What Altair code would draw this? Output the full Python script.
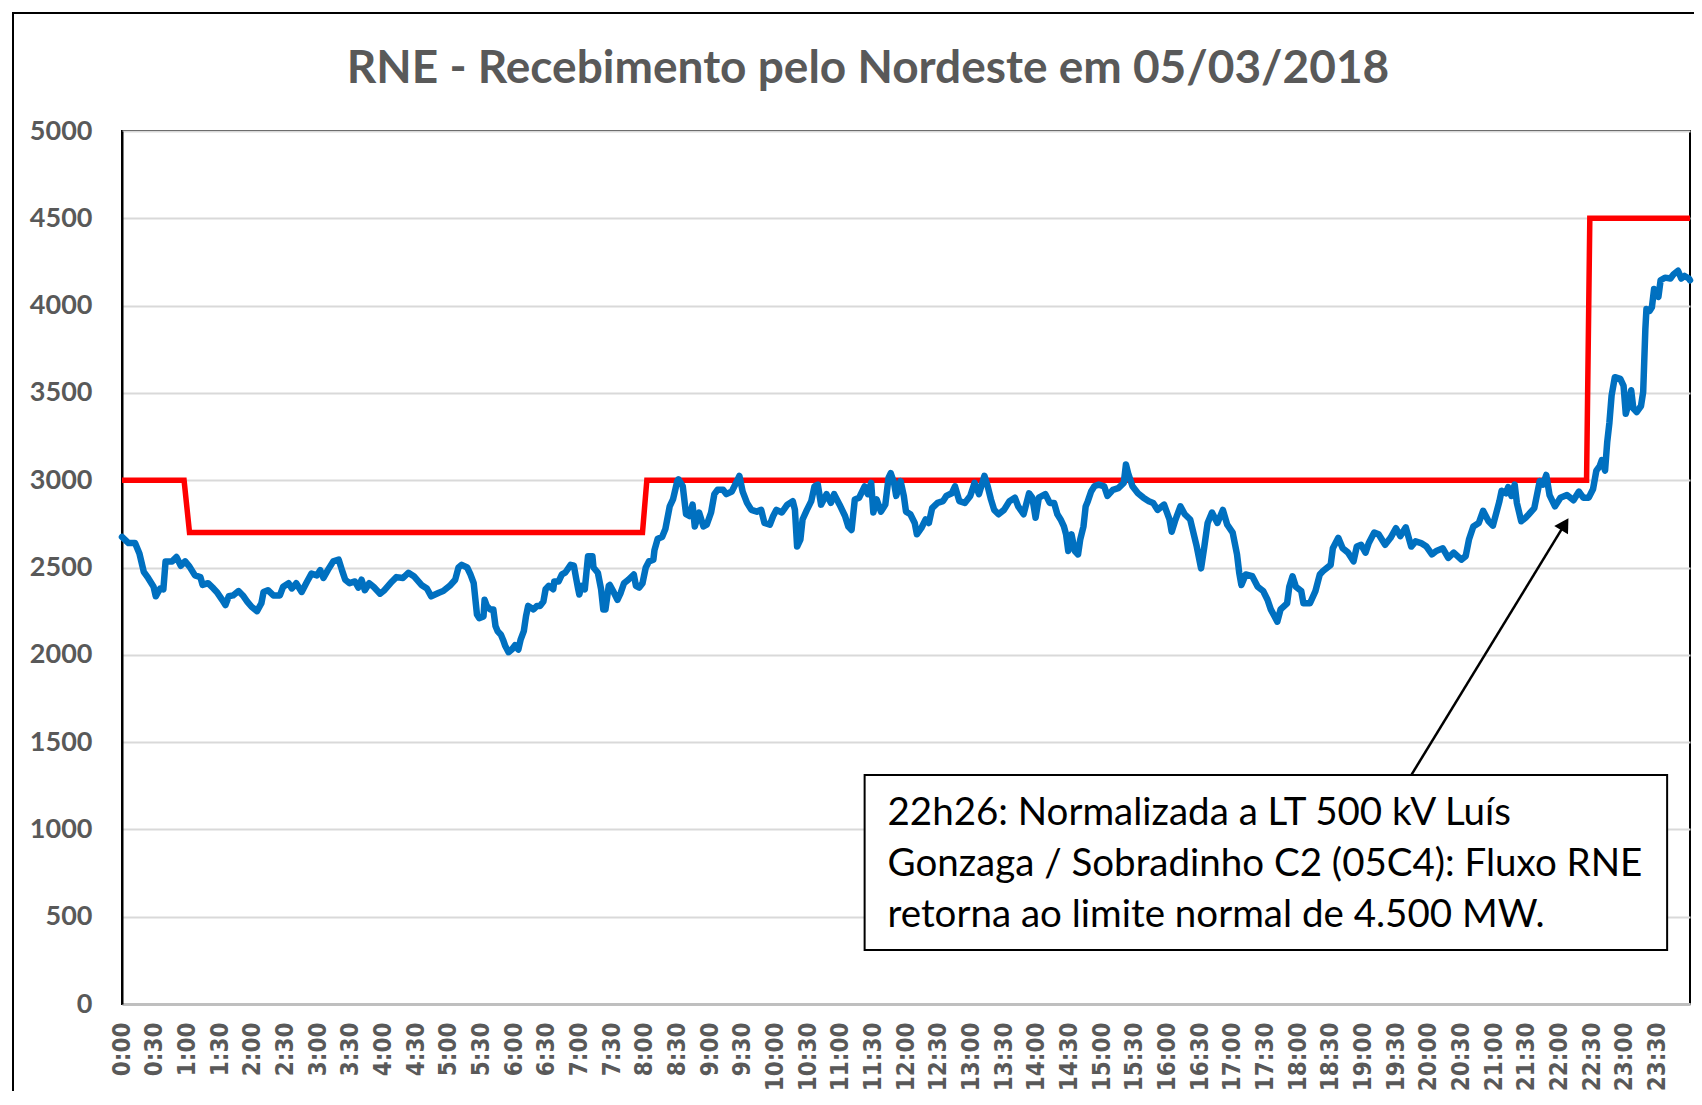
import altair as alt
import pandas as pd

TITLE = "RNE - Recebimento pelo Nordeste em 05/03/2018"

# Fluxo RNE (MW); tempo em minutos desde 0:00
rne_min = [
    0, 6, 12, 16, 20, 24, 29, 31, 35, 38, 40, 46, 50, 54, 58, 62, 67, 72, 74, 79,
    84, 87, 92, 95, 98, 102, 107, 111, 115, 119, 124, 128, 130, 134, 139, 145, 148, 153, 156, 160,
    165, 170, 174, 179, 182, 185, 189, 194, 199, 202, 205, 209, 214, 217, 220, 223, 227, 231, 237, 241,
    248, 252, 258, 263, 268, 275, 280, 284, 291, 295, 301, 306, 309, 312, 317, 320, 323, 325, 326, 328,
    332, 333, 335, 338, 341, 343, 345, 348, 350, 352, 355, 358, 361, 364, 366, 369, 371, 373, 378, 381,
    384, 387, 389, 392, 396, 397, 401, 404, 407, 412, 415, 417, 419, 420, 422, 425, 428, 432, 433, 437,
    440, 442, 444, 447, 448, 451, 455, 458, 461, 465, 470, 472, 475, 478, 481, 484, 488, 489, 492, 496,
    499, 503, 506, 510, 511, 515, 518, 521, 524, 526, 530, 534, 537, 541, 544, 547, 552, 555, 560, 564,
    567, 570, 574, 578, 583, 587, 590, 595, 598, 601, 606, 611, 616, 618, 620, 623, 625, 629, 633, 636,
    639, 642, 647, 651, 654, 659, 664, 667, 670, 673, 677, 682, 685, 688, 690, 693, 697, 701, 704, 706,
    709, 711, 715, 718, 720, 724, 728, 730, 734, 738, 741, 744, 749, 754, 757, 762, 765, 769, 774, 779,
    783, 787, 792, 795, 798, 801, 805, 810, 815, 820, 823, 828, 833, 836, 839, 842, 848, 852, 856, 859,
    862, 865, 867, 869, 872, 875, 878, 880, 883, 885, 887, 890, 893, 897, 902, 905, 910, 915, 920, 922,
    924, 928, 933, 938, 943, 947, 951, 957, 962, 964, 967, 972, 976, 981, 987, 991, 994, 997, 1001, 1006,
    1011, 1015, 1020, 1024, 1026, 1028, 1032, 1038, 1043, 1048, 1052, 1055, 1061, 1064, 1070, 1072, 1075, 1078, 1083, 1085,
    1091, 1096, 1100, 1103, 1110, 1112, 1117, 1121, 1126, 1131, 1134, 1138, 1142, 1145, 1150, 1154, 1160, 1165, 1170, 1174,
    1179, 1184, 1188, 1193, 1198, 1203, 1207, 1213, 1218, 1223, 1230, 1234, 1237, 1241, 1246, 1250, 1255, 1259, 1265, 1267,
    1271, 1273, 1276, 1279, 1281, 1285, 1289, 1292, 1297, 1302, 1305, 1308, 1311, 1316, 1321, 1327, 1333, 1338, 1342, 1347,
    1351, 1354, 1357, 1359, 1362, 1364, 1366, 1368, 1371, 1376, 1379, 1381, 1383, 1386, 1388, 1391, 1395, 1397, 1399, 1400,
    1403, 1405, 1407, 1411, 1413, 1417, 1422, 1425, 1429, 1432, 1435, 1439, 1440,
]
rne_mw = [
    2675, 2640, 2640, 2580, 2475, 2440, 2390, 2335, 2380, 2375, 2535, 2535, 2560, 2510, 2535, 2505, 2455, 2445, 2400, 2410,
    2380, 2360, 2315, 2285, 2335, 2340, 2365, 2340, 2305, 2275, 2250, 2295, 2360, 2370, 2340, 2340, 2390, 2410, 2380, 2410,
    2360, 2420, 2465, 2455, 2485, 2440, 2485, 2535, 2545, 2485, 2430, 2410, 2420, 2385, 2430, 2370, 2410, 2390, 2350, 2370,
    2420, 2445, 2440, 2470, 2450, 2400, 2380, 2335, 2355, 2365, 2395, 2430, 2500, 2515, 2500, 2460, 2410, 2290, 2230, 2210,
    2220, 2315, 2280, 2260, 2260, 2165, 2135, 2115, 2085, 2050, 2015, 2030, 2055, 2030, 2085, 2135, 2220, 2280, 2260, 2280,
    2280, 2305, 2375, 2395, 2375, 2420, 2420, 2460, 2470, 2515, 2510, 2440, 2375, 2345, 2395, 2375, 2565, 2565, 2500, 2470,
    2375, 2260, 2260, 2395, 2400, 2365, 2315, 2355, 2410, 2430, 2460, 2395, 2385, 2410, 2500, 2535, 2545, 2600, 2665, 2675,
    2720, 2850, 2890, 2995, 3005, 2965, 2805, 2795, 2860, 2735, 2815, 2735, 2745, 2815, 2920, 2945, 2945, 2920, 2935, 2985,
    3025, 2935, 2870, 2830, 2820, 2830, 2755, 2745, 2795, 2830, 2815, 2860, 2880, 2830, 2620, 2660, 2775, 2830, 2880, 2965,
    2975, 2860, 2920, 2870, 2920, 2860, 2795, 2735, 2715, 2890, 2900, 2965, 2920, 2985, 2815, 2890, 2820, 2860, 3015, 3040,
    2985, 2910, 2995, 2910, 2820, 2805, 2755, 2690, 2725, 2775, 2755, 2840, 2870, 2880, 2910, 2925, 2965, 2880, 2870, 2910,
    2985, 2920, 3025, 2965, 2890, 2830, 2805, 2830, 2880, 2900, 2850, 2805, 2925, 2900, 2785, 2900, 2920, 2870, 2870, 2805,
    2775, 2735, 2690, 2595, 2690, 2595, 2575, 2660, 2735, 2850, 2880, 2935, 2965, 2975, 2965, 2910, 2945, 2955, 2985, 3090,
    3040, 2965, 2925, 2900, 2880, 2870, 2830, 2860, 2775, 2705, 2765, 2850, 2805, 2775, 2620, 2495, 2620, 2755, 2815, 2755,
    2830, 2745, 2700, 2575, 2470, 2400, 2460, 2450, 2390, 2365, 2315, 2260, 2190, 2260, 2295, 2390, 2450, 2390, 2365, 2295,
    2295, 2365, 2460, 2480, 2515, 2610, 2670, 2610, 2585, 2535, 2620, 2630, 2585, 2640, 2700, 2690, 2630, 2670, 2725, 2680,
    2730, 2620, 2650, 2640, 2620, 2575, 2595, 2610, 2555, 2585, 2545, 2565, 2660, 2735, 2755, 2825, 2765, 2740, 2880, 2940,
    2925, 2960, 2910, 2975, 2870, 2765, 2785, 2805, 2840, 2995, 2975, 3030, 2915, 2850, 2900, 2915, 2885, 2935, 2900, 2900,
    2950, 3055, 3080, 3115, 3055, 3220, 3330, 3485, 3590, 3580, 3540, 3380, 3425, 3515, 3410, 3390, 3425, 3505, 3865, 3980,
    3970, 3990, 4095, 4050, 4145, 4160, 4155, 4180, 4200, 4155, 4170, 4155, 4145,
]

# Limite RNE (MW)
lim_min = [0, 57, 62, 478, 482, 1345, 1348, 1440]
lim_mw = [3000, 3000, 2700, 2700, 3000, 3000, 4500, 4500]

x_tick_minutes = list(range(0, 1440, 30))
y_tick_values = list(range(0, 5001, 500))

note_lines = [
    "22h26: Normalizada a LT 500 kV Luís",
    "Gonzaga / Sobradinho C2 (05C4): Fluxo RNE",
    "retorna ao limite normal de 4.500 MW.",
]

# annotation placement (data units: minutes / MW)
note_box = {"x0": 682, "x1": 1419, "y0": 309, "y1": 1311}
note_text_x = 703
note_text_y = [1025, 731, 439]
arrow = {"min": 1184, "mw": 1311, "min2": 1325, "mw2": 2748}
arrow_angle = 31.6

GRAY = "#595959"

x_scale = alt.Scale(domain=[0, 1440], nice=False, zero=False)
y_scale = alt.Scale(domain=[0, 5000], nice=False)

label_expr = "floor(datum.value / 60) + ':' + (datum.value % 60 == 0 ? '00' : '30')"

x_axis = alt.Axis(
    values=x_tick_minutes, labelExpr=label_expr, labelAngle=270, labelAlign="right",
    labelBaseline="middle", labelFont="DejaVu Sans Condensed", labelFontWeight="bold",
    labelFontSize=24, labelColor=GRAY, labelPadding=18, ticks=False, grid=False,
    domainColor="#BFBFBF", domainWidth=3, title=None, labelOverlap=False,
    labelFlush=False, labelBound=False,
)
y_axis = alt.Axis(
    values=y_tick_values, format="d", labelFont="Lato", labelFontWeight="bold", labelFontSize=27,
    labelColor=GRAY, labelPadding=30, ticks=False, grid=True, gridColor="#D9D9D9",
    gridWidth=2, domainColor="black", domainWidth=2, title=None, labelFlush=False,
)


def X(field):
    return alt.X(field, type="quantitative", scale=x_scale, axis=x_axis)


def Y(field):
    return alt.Y(field, type="quantitative", scale=y_scale, axis=y_axis)


blue_df = pd.DataFrame({"min": rne_min, "mw": rne_mw})
red_df = pd.DataFrame({"min": lim_min, "mw": lim_mw})

red = alt.Chart(red_df).mark_line(color="#FF0000", strokeWidth=5.5, strokeJoin="miter").encode(
    x=X("min"), y=Y("mw"),
)
blue = alt.Chart(blue_df).mark_line(
    color="#0070C0", strokeWidth=6.5, strokeJoin="round", strokeCap="round"
).encode(x=X("min"), y=Y("mw"))

box = alt.Chart(pd.DataFrame([note_box])).mark_rect(fill="white", stroke="black", strokeWidth=2).encode(
    x=X("x0"), x2="x1:Q", y=Y("y0"), y2="y1:Q",
)

text_df = pd.DataFrame({"x": [note_text_x] * 3, "y": note_text_y, "t": note_lines})
texts = alt.Chart(text_df).mark_text(
    align="left", baseline="alphabetic", font="Lato", fontSize=38.5, color="black"
).encode(x=X("x"), y=Y("y"), text="t:N")

arrow_df = pd.DataFrame([arrow])
arrow_line = alt.Chart(arrow_df).mark_rule(color="black", strokeWidth=2.5).encode(
    x=X("min"), x2="min2:Q", y=Y("mw"), y2="mw2:Q",
)
arrow_head = alt.Chart(arrow_df).mark_point(
    shape="triangle-up", filled=True, color="black", size=260, angle=arrow_angle, opacity=1
).encode(x=X("min2"), y=Y("mw2"))

one = pd.DataFrame({"t": [TITLE]})
title_mark = alt.Chart(one).mark_text(
    font="Lato", fontSize=46, fontWeight="bold", color=GRAY, align="center", baseline="alphabetic"
).encode(x=alt.value(746), y=alt.value(-48), text="t:N")

frame_left = alt.Chart(one).mark_rule(color="black", strokeWidth=2).encode(
    x=alt.value(-109), y=alt.value(-118), y2=alt.value(1000)
)
frame_top = alt.Chart(one).mark_rule(color="black", strokeWidth=2).encode(
    x=alt.value(-110), x2=alt.value(1700), y=alt.value(-118)
)

chart = alt.layer(
    red, blue, box, texts, arrow_line, arrow_head, title_mark, frame_left, frame_top
).properties(
    width=1568,
    height=873,
    padding={"left": 114, "top": 123, "right": 4, "bottom": 87},
    autosize=alt.AutoSizeParams(type="none"),
    background="white",
).configure_view(stroke="black", strokeWidth=2)

chart.save("out.html", embed_options={"renderer": "svg", "actions": False})
